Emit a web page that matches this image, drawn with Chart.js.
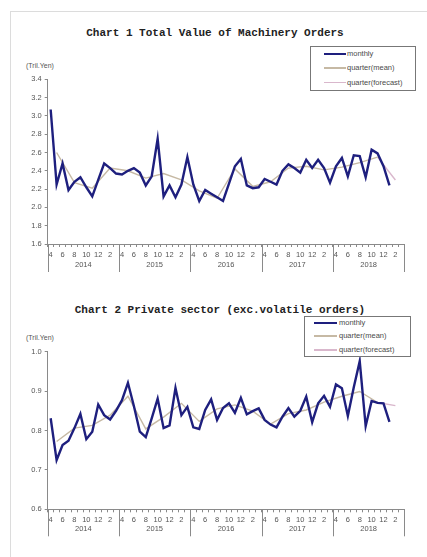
<!DOCTYPE html>
<html>
<head>
<meta charset="utf-8">
<script src="https://cdn.jsdelivr.net/npm/chart.js@4"></script>
<style>
body{margin:0;background:#fff;width:427px;height:557px;overflow:hidden;position:relative;font-family:"Liberation Sans",Arial,sans-serif}
.frame{position:absolute;left:10px;top:11px;width:440px;height:560px;border:1px solid #dcdcdc}
.title{position:absolute;font:bold 11px "Liberation Mono",monospace;color:#222;white-space:nowrap;transform:translateX(-50%)}
.unit{position:absolute;font-size:7px;color:#555}
.legend{position:absolute;border:1px solid #777;background:#fff;font-size:7.5px;color:#4a4a4a}
.legend .row{position:absolute;white-space:nowrap;height:10px;line-height:10px}
.legend .sw{position:absolute;top:50%}
.legend .tx{position:absolute;top:0}
canvas{position:absolute;left:0}
</style>
</head>
<body>
<div class="frame"></div>
<div class="title" style="left:215px;top:27px">Chart 1 Total Value of Machinery Orders</div>
<div class="unit" style="left:26px;top:62px">(Tril.Yen)</div>
<canvas id="c1" width="427" height="280" style="top:0"></canvas>
<div class="legend" id="lg1" style="left:310px;top:46px;width:104px;height:43px"></div>

<div class="title" style="left:220px;top:304px">Chart 2 Private sector (exc.volatile orders)</div>
<div class="unit" style="left:26px;top:334px">(Tril.Yen)</div>
<canvas id="c2" width="427" height="277" style="top:280px"></canvas>
<div class="legend" id="lg2" style="left:304px;top:316px;width:105px;height:39px"></div>

<script>
// fiscal years shown on the axis, months in fiscal order
const years = ['2014', '2015', '2016', '2017', '2018'];
const monthOrder = [4, 5, 6, 7, 8, 9, 10, 11, 12, 1, 2, 3];
const categories = years.flatMap(y => monthOrder.map(m => m + '/' + y));

// Chart 1: total value (trillion yen), Apr 2014 - Jan 2019
const monthly1 = [
  3.07, 2.25, 2.48, 2.19, 2.28, 2.33, 2.22, 2.12, 2.30, 2.48, 2.43, 2.37,
  2.36, 2.40, 2.43, 2.38, 2.24, 2.34, 2.75, 2.12, 2.24, 2.11, 2.25, 2.55,
  2.25, 2.07, 2.19, 2.15, 2.11, 2.07, 2.26, 2.45, 2.53, 2.24, 2.21, 2.22,
  2.31, 2.28, 2.25, 2.40, 2.47, 2.43, 2.38, 2.52, 2.43, 2.52, 2.43, 2.27,
  2.45, 2.54, 2.34, 2.57, 2.56, 2.33, 2.63, 2.59, 2.45, 2.24
];
// quarterly means, Q2 2014 - Q4 2018 (plotted at middle month)
const quarterMean1 = [2.60, 2.27, 2.21, 2.43, 2.40, 2.32, 2.37, 2.30, 2.18, 2.10,
  2.42, 2.23, 2.28, 2.43, 2.45, 2.41, 2.44, 2.49, 2.55];
// Q4 2018 actual -> Q1 2019 forecast
const quarterForecast1 = [2.55, 2.30];
const yTicks1 = [1.6, 1.8, 2.0, 2.2, 2.4, 2.6, 2.8, 3.0, 3.2, 3.4];

// Chart 2: private sector excl. volatile orders
const monthly2 = [
  0.831, 0.725, 0.763, 0.774, 0.806, 0.842, 0.778, 0.797, 0.866, 0.839, 0.828, 0.850,
  0.877, 0.921, 0.862, 0.797, 0.783, 0.831, 0.881, 0.806, 0.813, 0.908, 0.839, 0.860,
  0.808, 0.804, 0.852, 0.879, 0.827, 0.857, 0.869, 0.845, 0.883, 0.841, 0.849, 0.856,
  0.827, 0.815, 0.808, 0.835, 0.857, 0.835, 0.850, 0.886, 0.821, 0.869, 0.888, 0.860,
  0.917, 0.907, 0.837, 0.910, 0.976, 0.811, 0.875, 0.870, 0.869, 0.822
];
const quarterMean2 = [0.772, 0.806, 0.813, 0.839, 0.887, 0.804, 0.834, 0.869, 0.823, 0.855,
  0.865, 0.849, 0.816, 0.843, 0.852, 0.872, 0.887, 0.899, 0.871];
const quarterForecast2 = [0.871, 0.863];
const yTicks2 = [0.6, 0.7, 0.8, 0.9, 1.0];

const monthLabels = ['4', '', '6', '', '8', '', '10', '', '12', '', '2', ''];
const legendNames = ['monthly', 'quarter(mean)', 'quarter(forecast)'];
const colors = { monthly: '#1e1f7e', mean: '#c6b9a4', forecast: '#d9b7cc', axis: '#8a8a8a', text: '#555' };

// put quarterly values at the middle month of each quarter
const atQuarters = (vals, firstQ) => {
  const out = categories.map(() => null);
  vals.forEach((v, i) => { out[(firstQ + i) * 3 + 1] = v; });
  return out;
};

const yearAxis = {
  id: 'yearAxis',
  afterDraw(chart, args, opts) {
    const x = chart.scales.x, ctx = chart.ctx, ca = chart.chartArea;
    const step = x.getPixelForValue(1) - x.getPixelForValue(0);
    ctx.save();
    ctx.strokeStyle = colors.axis;
    ctx.lineWidth = 1;
    for (let i = 0; i <= years.length; i++) {
      const px = Math.round(x.getPixelForValue(i * 12) - step / 2) + 0.5;
      ctx.beginPath();
      ctx.moveTo(px, ca.bottom);
      ctx.lineTo(px, ca.bottom + opts.len);
      ctx.stroke();
    }
    ctx.fillStyle = colors.text;
    ctx.font = '7.5px "Liberation Sans"';
    ctx.textAlign = 'center';
    ctx.textBaseline = 'middle';
    years.forEach((y, i) => {
      const px = (x.getPixelForValue(i * 12) + x.getPixelForValue(i * 12 + 11)) / 2;
      ctx.fillText(y, px, ca.bottom + opts.labelY);
    });
    ctx.restore();
  }
};

function makeChart(id, monthly, mean, forecast, yTicks, pad, yearOpts) {
  return new Chart(document.getElementById(id), {
    type: 'line',
    data: {
      labels: categories,
      datasets: [
        { label: legendNames[0], data: monthly, borderColor: colors.monthly, borderWidth: 2.4, pointRadius: 0, tension: 0 },
        { label: legendNames[1], data: atQuarters(mean, 0), borderColor: colors.mean, borderWidth: 1.4, pointRadius: 0, spanGaps: true, tension: 0 },
        { label: legendNames[2], data: atQuarters(forecast, mean.length - 1), borderColor: colors.forecast, borderWidth: 1.4, pointRadius: 0, spanGaps: true, tension: 0 }
      ]
    },
    options: {
      responsive: false,
      animation: false,
      devicePixelRatio: 1,
      layout: { padding: pad },
      plugins: { legend: { display: false }, tooltip: { enabled: false }, yearAxis: yearOpts },
      scales: {
        x: {
          offset: true,
          afterFit: s => { s.height = 30; },
          border: { color: colors.axis, width: 1 },
          grid: { offset: true, drawOnChartArea: false, drawTicks: true, tickLength: 3, color: colors.axis },
          ticks: {
            autoSkip: false, maxRotation: 0, padding: 3,
            color: colors.text, font: { family: 'Liberation Sans', size: 7.5 },
            callback: (v, i) => monthLabels[i % 12]
          }
        },
        y: {
          min: yTicks[0], max: yTicks[yTicks.length - 1],
          afterBuildTicks: s => { s.ticks = yTicks.map(v => ({ value: v })); },
          afterFit: s => { s.width = 22; },
          border: { color: colors.axis, width: 1 },
          grid: { drawOnChartArea: false, drawTicks: true, tickLength: 3, color: colors.axis },
          ticks: { padding: 3, color: colors.text, font: { family: 'Liberation Sans', size: 7.5 }, callback: v => v.toFixed(1) }
        }
      }
    },
    plugins: [yearAxis]
  });
}

function makeLegend(id, rows, swX, swW, txX) {
  const box = document.getElementById(id);
  const styles = [[colors.monthly, 2.4], [colors.mean, 1.2], [colors.forecast, 1.2]];
  legendNames.forEach((name, i) => {
    const r = document.createElement('div');
    r.className = 'row';
    r.style.top = (rows[i] - 5) + 'px';
    r.style.left = '0px';
    r.innerHTML = '<span class="sw" style="left:' + swX + 'px;width:' + swW + 'px;height:' + styles[i][1] +
      'px;margin-top:-' + styles[i][1] / 2 + 'px;background:' + styles[i][0] + '"></span><span class="tx" style="left:' + txX + 'px">' + name + '</span>';
    box.appendChild(r);
  });
}

makeChart('c1', monthly1, quarterMean1, quarterForecast1, yTicks1,
  { left: 25.7, right: 22.7, top: 79.3, bottom: 6 }, { len: 28, labelY: 21 });
makeChart('c2', monthly2, quarterMean2, quarterForecast2, yTicks2,
  { left: 25.7, right: 22.7, top: 71.7, bottom: 17.7 }, { len: 27, labelY: 20 });
makeLegend('lg1', [7, 21, 35.5], 13, 22, 36);
makeLegend('lg2', [6, 19, 33], 9, 23, 34);
</script>
</body>
</html>
